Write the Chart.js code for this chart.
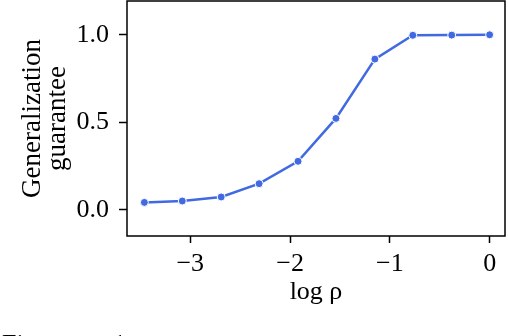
<!DOCTYPE html>
<html>
<head>
<meta charset="utf-8">
<script src="https://cdn.jsdelivr.net/npm/chart.js@4"></script>
<style>
  html, body { margin: 0; padding: 0; background: #fff; }
  canvas { display: block; }
</style>
</head>
<body>
<canvas id="chart" width="508" height="336"></canvas>
<script>
// log rho values and the guarantee
const logRho = [-3.46, -3.08, -2.69, -2.31, -1.92, -1.54, -1.15, -0.77, -0.38, 0];
const guarantee = [0.042, 0.05, 0.073, 0.149, 0.277, 0.522, 0.861, 0.997, 0.998, 1.0];
const xTicks = [-3, -2, -1, 0];
const yTicks = [0, 0.5, 1.0];

const serif = "'Liberation Serif', 'DejaVu Serif', serif";
const lineColor = "#4169e1";

// spines around the plot area, like matplotlib
const boxPlugin = {
  id: "box",
  afterDraw(chart) {
    const { ctx, chartArea: a } = chart;
    ctx.save();
    ctx.strokeStyle = "#000";
    ctx.lineWidth = 1.5;
    ctx.strokeRect(a.left, a.top, a.right - a.left, a.bottom - a.top);
    // caption cut off at the bottom of the page
    ctx.fillStyle = "#000";
    ctx.font = "26px " + serif;
    ctx.textBaseline = "alphabetic";
    ctx.fillText("Figure", 2, 352);
    ctx.fillText("1:", 113, 352);
    ctx.restore();
  }
};

// no extra room for edge labels, the plot area is fixed
function noPadding(s) {
  s.paddingTop = 0;
  s.paddingBottom = 0;
  s.paddingLeft = 0;
  s.paddingRight = 0;
}

new Chart(document.getElementById("chart"), {
  type: "scatter",
  data: {
    datasets: [{
      data: logRho.map((x, i) => ({ x, y: guarantee[i] })),
      showLine: true,
      borderColor: lineColor,
      borderWidth: 2.5,
      backgroundColor: lineColor,
      pointRadius: 4,
      pointBorderColor: "#fff",
      pointBorderWidth: 1,
      tension: 0
    }]
  },
  options: {
    responsive: false,
    animation: false,
    layout: { autoPadding: false, padding: { top: 1, right: 3, left: 0, bottom: 0 } },
    plugins: { legend: { display: false }, tooltip: { enabled: false } },
    scales: {
      x: {
        type: "linear",
        min: -3.634,
        max: 0.154,
        afterBuildTicks: s => { s.ticks = xTicks.map(v => ({ value: v })); },
        afterFit: s => { s.height = 100; noPadding(s); },
        border: { display: false },
        grid: { drawOnChartArea: false, tickLength: 7, tickWidth: 1.5, tickColor: "#000" },
        ticks: {
          color: "#000",
          padding: 6,
          font: { family: serif, size: 26 },
          callback: v => (v < 0 ? "\u2212" + Math.abs(v) : String(v))
        },
        title: {
          display: true,
          text: "log \u03c1",
          color: "#000",
          font: { family: serif, size: 26 },
          padding: { top: 0, bottom: 28 }
        }
      },
      y: {
        type: "linear",
        min: -0.150,
        max: 1.193,
        afterBuildTicks: s => { s.ticks = yTicks.map(v => ({ value: v })); },
        afterFit: s => { s.width = 127; noPadding(s); },
        border: { display: false },
        grid: { drawOnChartArea: false, tickLength: 8, tickWidth: 1.5, tickColor: "#000" },
        ticks: {
          color: "#000",
          padding: 10,
          font: { family: serif, size: 26 },
          callback: v => v.toFixed(1)
        },
        title: {
          display: true,
          text: ["Generalization", "guarantee"],
          color: "#000",
          font: { family: serif, size: 27, lineHeight: 0.9 },
          padding: { top: 21, bottom: 0 }
        }
      }
    }
  },
  plugins: [boxPlugin]
});
</script>
</body>
</html>
